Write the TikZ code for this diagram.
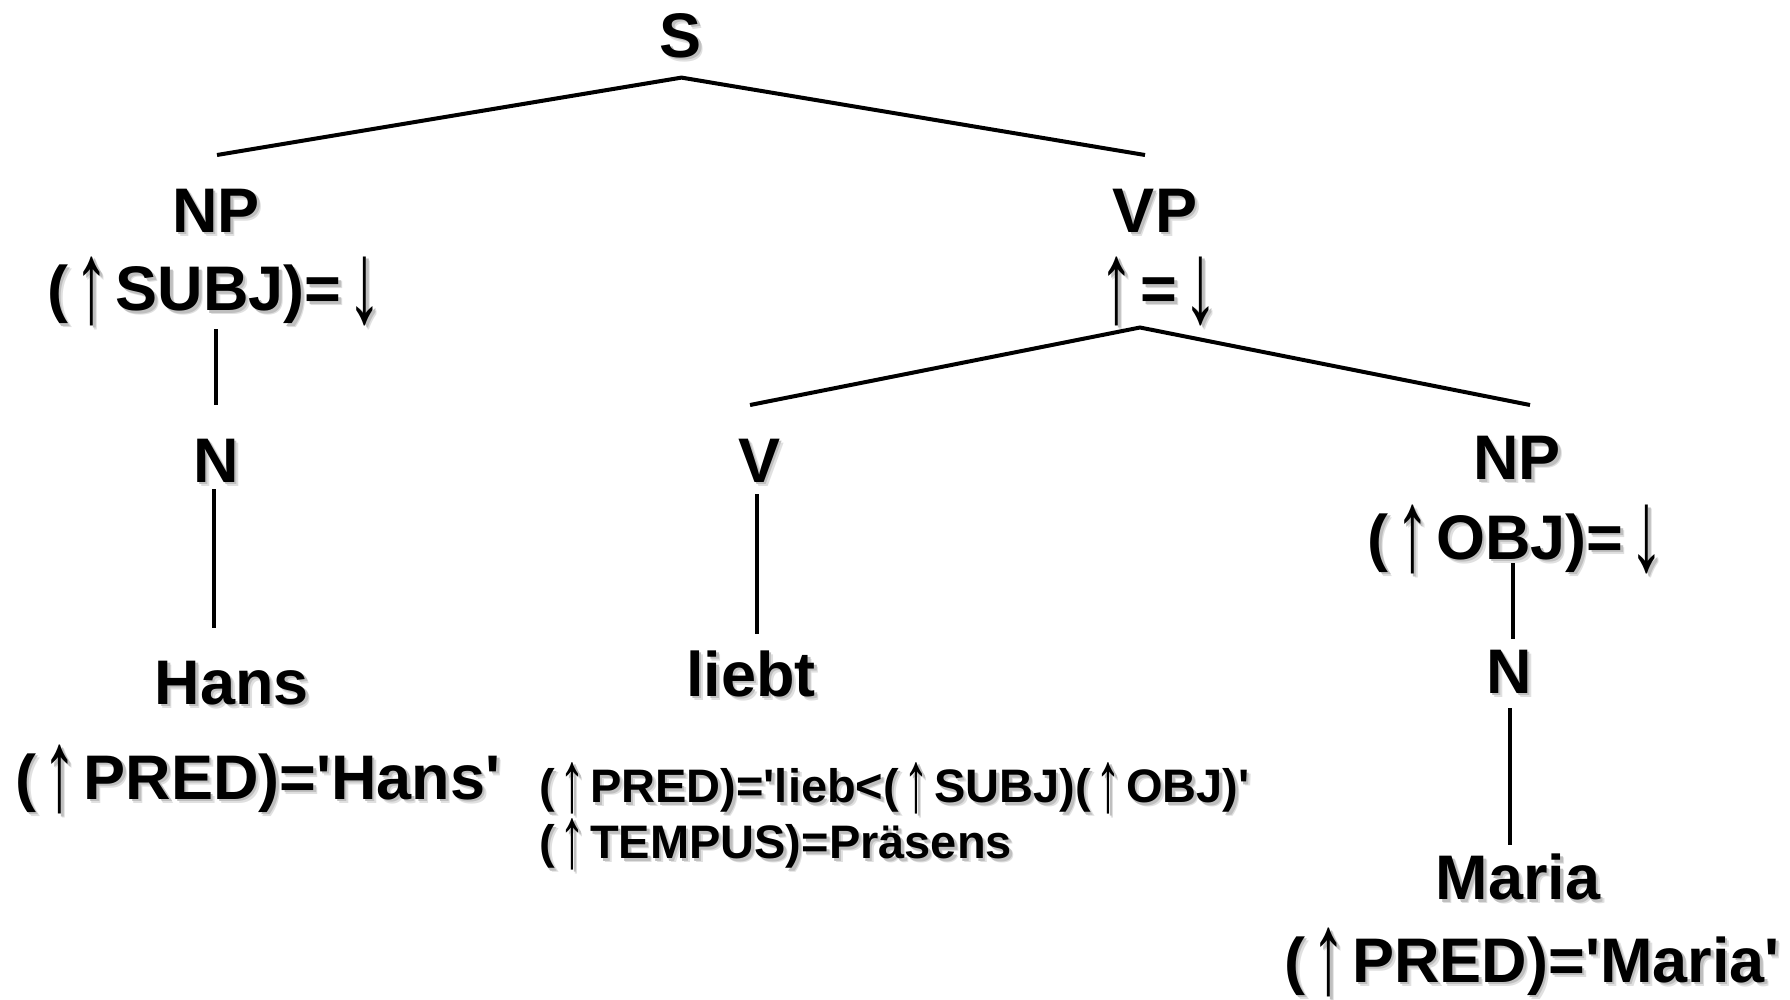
\documentclass[tikz,border=0pt]{standalone}
\usepackage{fontspec}
\usepackage{graphicx}
\newfontfamily\lf{Liberation Sans}
\newcommand\upa{\hspace{0.1em}\raisebox{-0.19em}{\scalebox{1.1}[1.85]{\fontseries{m}\selectfont ↑}}\hspace{0.1em}}
\newcommand\dna{\hspace{0.1em}\raisebox{-0.19em}{\scalebox{1.1}[1.85]{\fontseries{m}\selectfont ↓}}\hspace{0.1em}}
\newcommand\shd[1]{\leavevmode\rlap{\color{black!12}\raisebox{-4pt}{\hspace{4pt}#1}}\rlap{\color{black!25}\raisebox{-2.5pt}{\hspace{2.5pt}#1}}#1}
\tikzset{
  lbl/.style={inner sep=0pt, anchor=base, font=\lf\bfseries\fontsize{63}{70}\selectfont},
  ann/.style={inner sep=0pt, anchor=base west, font=\lf\bfseries\fontsize{47}{56}\selectfont},
  edge/.style={line width=4pt, line cap=butt}
}
\begin{document}
\begin{tikzpicture}[x=1pt,y=-1pt]
\useasboundingbox (0,0) rectangle (1790,999);
% nodes
\node[lbl] (S) at (681,57) {\shd{S}};
\node[lbl] (NP1) at (216,232) {\shd{NP}};
\node[lbl] (SUBJ) at (215,310.5) {\shd{(\upa SUBJ)=\dna}};
\node[lbl] (N1) at (216,482) {\shd{N}};
\node[lbl] (Hans) at (232,704) {\shd{Hans}};
\node[lbl] (PH) at (258,799) {\shd{(\upa PRED)='Hans'}};
\node[lbl] (VP) at (1155,232) {\shd{VP}};
\node[lbl] (EQ) at (1156,310.5) {\shd{\upa=\dna}};
\node[lbl] (V) at (759,482) {\shd{V}};
\node[lbl] (liebt) at (751,696) {\shd{liebt}};
\node[ann] (PL) at (539,802.5) {\shd{(\upa PRED)='lieb<(\upa SUBJ)(\upa OBJ)'}};
\node[ann] (PT) at (539,858.5) {\shd{(\upa TEMPUS)=Präsens}};
\node[lbl] (NP2) at (1517,479.5) {\shd{NP}};
\node[lbl] (OBJ) at (1516,559) {\shd{(\upa OBJ)=\dna}};
\node[lbl] (N2) at (1509,693) {\shd{N}};
\node[lbl] (Maria) at (1518,899.6) {\shd{Maria}};
\node[lbl] (PM) at (1532,982) {\shd{(\upa PRED)='Maria'}};
% connectors
\draw[edge] ([xshift=1pt,yshift=77pt]NP1.base) -- ([xshift=0.5pt,yshift=-20.6pt]S.base) -- ([xshift=-10pt,yshift=77pt]VP.base);
\draw[edge] ([xshift=1pt,yshift=-18.5pt]SUBJ.base) -- ([yshift=77pt]N1.base);
\draw[edge] ([xshift=-2.5pt,yshift=-7pt]N1.base) -- ([xshift=-18.5pt,yshift=76pt]Hans.base);
\draw[edge] ([xshift=-9pt,yshift=77pt]V.base) -- ([xshift=-16pt,yshift=-17pt]EQ.base) -- ([xshift=13pt,yshift=74.5pt]NP2.base);
\draw[edge] ([xshift=-2pt,yshift=-12pt]V.base) -- ([xshift=6pt,yshift=62.4pt]liebt.base);
\draw[edge] ([xshift=-3.4pt,yshift=-4pt]OBJ.base) -- ([xshift=3.6pt,yshift=54pt]N2.base);
\draw[edge] ([xshift=1pt,yshift=-15pt]N2.base) -- ([xshift=-8pt,yshift=54.6pt]Maria.base);
\end{tikzpicture}
\end{document}
